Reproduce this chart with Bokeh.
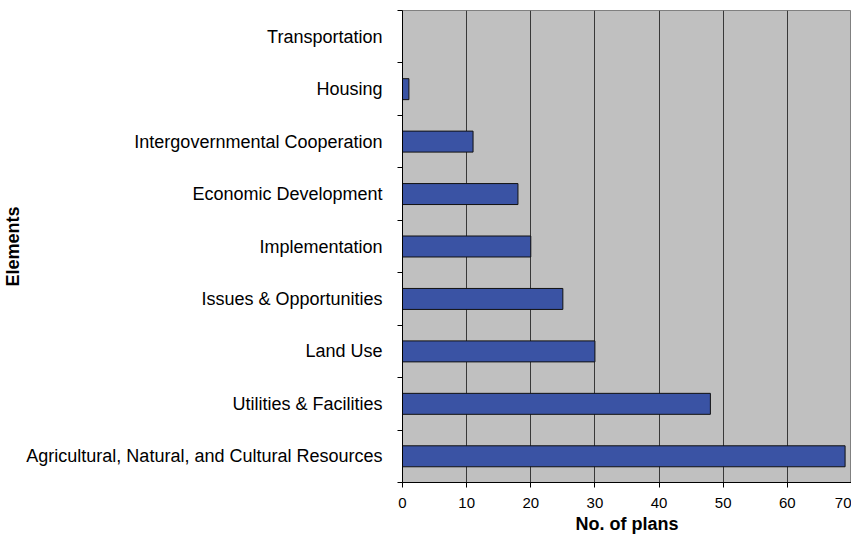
from bokeh.plotting import figure
from bokeh.models import Range1d, FixedTicker
from bokeh.embed import file_html
from bokeh.resources import INLINE

# Data (bottom to top)
categories = [
    "Agricultural, Natural, and Cultural Resources",
    "Utilities & Facilities",
    "Land Use",
    "Issues & Opportunities",
    "Implementation",
    "Economic Development",
    "Intergovernmental Cooperation",
    "Housing",
    "Transportation",
]
plans = [69, 48, 30, 25, 20, 18, 11, 1, 0]
x_ticks = [0, 10, 20, 30, 40, 50, 60, 70]

n = len(categories)
centers = [i + 0.5 for i in range(n)]
bounds = list(range(n + 1))

p = figure(width=851, height=538, output_backend="svg", toolbar_location=None,
           x_range=Range1d(0, 70), y_range=Range1d(0, n),
           min_border_left=400, min_border_right=0, min_border_top=10,
           min_border_bottom=56)

p.background_fill_color = "#C0C0C0"
p.border_fill_color = "white"
p.outline_line_color = "#808080"
p.outline_line_width = 1

p.hbar(y=centers, right=plans, left=0, height=0.4,
       fill_color="#3A53A4", line_color="#111111", line_width=1)

FONT = "Liberation Sans"

# x axis
xa = p.xaxis[0]
xa.ticker = FixedTicker(ticks=x_ticks)
xa.axis_line_color = "black"
xa.major_tick_line_color = "black"
xa.major_tick_out = 5
xa.major_tick_in = 0
xa.minor_tick_line_color = None
xa.major_label_text_font = FONT
xa.major_label_text_font_size = "15px"
xa.major_label_text_color = "black"
xa.major_label_standoff = 10
xa.axis_label = "No. of plans"
xa.axis_label_text_font = FONT
xa.axis_label_text_font_size = "18px"
xa.axis_label_text_font_style = "bold"
xa.axis_label_text_color = "black"
xa.axis_label_standoff = 3

# y axis
ya = p.yaxis[0]
ya.ticker = FixedTicker(ticks=centers, minor_ticks=bounds)
ya.major_label_overrides = {c: lab for c, lab in zip(centers, categories)}
ya.axis_line_color = "black"
ya.major_tick_out = 0
ya.major_tick_in = 0
ya.minor_tick_line_color = "black"
ya.minor_tick_out = 5
ya.minor_tick_in = 0
ya.major_label_text_font = FONT
ya.major_label_text_font_size = "18px"
ya.major_label_text_color = "black"
ya.major_label_standoff = 15
ya.axis_label = "Elements"
ya.axis_label_text_font = FONT
ya.axis_label_text_font_size = "18px"
ya.axis_label_text_font_style = "bold"
ya.axis_label_text_color = "black"
ya.axis_label_standoff = 0

p.xgrid.ticker = FixedTicker(ticks=x_ticks)
p.xgrid.grid_line_color = "#383838"
p.xgrid.grid_line_width = 1
p.ygrid.grid_line_color = None

open("out.html", "w").write(file_html(p, INLINE))
